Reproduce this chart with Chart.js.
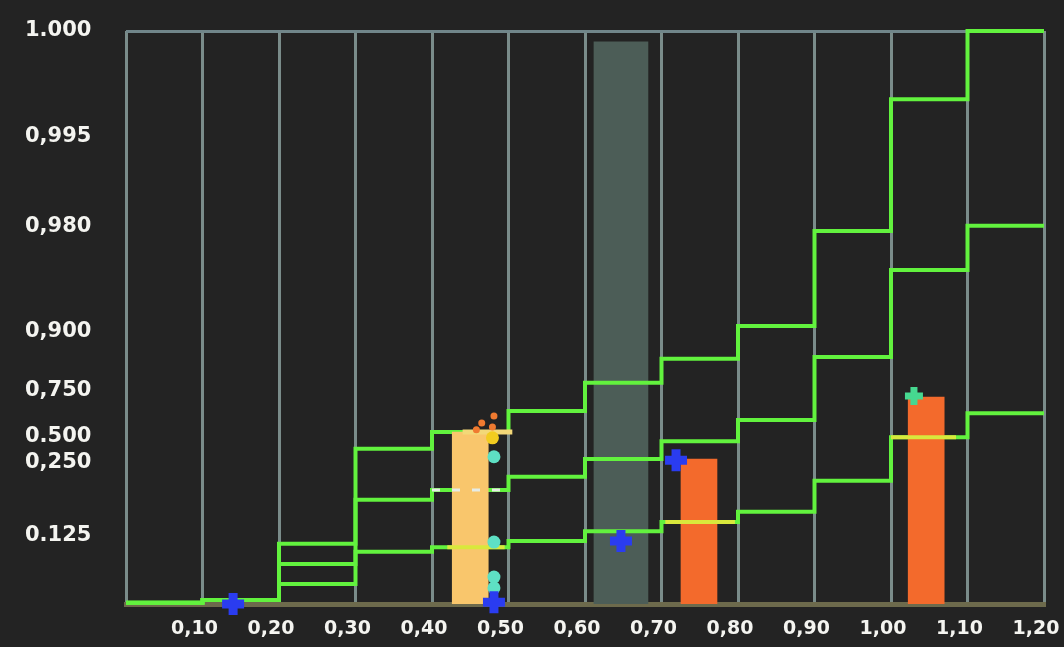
<!DOCTYPE html>
<html><head><meta charset="utf-8">
<script src="https://cdn.jsdelivr.net/npm/chart.js@4/dist/chart.umd.min.js"></script>
<style>html,body{margin:0;padding:0;background:#232323;}#wrap{width:1064px;height:647px;position:relative;}</style>
</head><body><div id="wrap"><canvas id="c"></canvas></div>
<script>
// ---- data (y in display units 0..100 of the plot height) ----
const xEdges = [0,0.1,0.2,0.3,0.4,0.5,0.6,0.7,0.8,0.9,1.0,1.1,1.2];
const xTickLabels = ['', '0,10','0,20','0,30','0,40','0,50','0,60','0,70','0,80','0,90','1,00','1,10','1,20'];
const stepLow  = [0.2,0.7,3.5,9.1,9.9,11.0,12.7,14.3,16.1,21.5,29.1,33.3];
const stepMid  = [0.2,0.7,7.0,18.2,19.9,22.2,25.3,28.4,32.1,43.1,58.3,66.0];
const stepHigh = [0.2,0.7,10.5,27.1,30.0,33.7,38.6,42.8,48.5,65.1,88.1,100];
const yTickPos = [12.0,24.6,29.3,37.3,47.6,65.8,81.5,100];
const yTickLabels = ['0.125','0,250','0.500','0,750','0,900','0,980','0,995','1.000'];

const grayBarX = [0.647];
const grayBarY = [98.1];
const warmBarX = [0.45, 0.749, 1.046];
const warmBarY = [30.0, 25.3, 36.1];
const warmBarColors = ['#f9c66c','#f36a2c','#f36a2c'];

const blueX = [0.14, 0.481, 0.647, 0.719];
const blueY = [0.0, 0.3, 11.0, 25.1];
const cyanX = [0.481, 0.481, 0.481, 0.481];
const cyanY = [25.7, 10.8, 4.7, 2.8];
const yellowDotX = [0.479];
const yellowDotY = [29.0];
const orangeDotX = [0.465, 0.481, 0.479, 0.458];
const orangeDotY = [31.6, 32.8, 30.9, 30.4];
const greenCrossX = [1.03];
const greenCrossY = [36.3];

// highlight segments over bars: [x0, x1, y]
const yellowSegX0 = [0.42, 0.705, 1.0];
const yellowSegX1 = [0.495, 0.796, 1.085];
const yellowSegY  = [9.9, 14.3, 29.1];
const whiteSegX = [0.40, 0.49];
const whiteSegY = [19.9, 19.9];
const capSegX = [0.44, 0.505];
const capSegY = [30.0, 30.0];

const pts = (xs, ys) => xs.map((x, i) => ({x, y: ys[i]}));
const stepPts = arr => xEdges.map((x, i) => ({x, y: arr[Math.min(i, arr.length - 1)]}));

const datasets = [];
datasets.push({type:'scatter', data: pts(blueX, blueY), pointStyle:'cross', radius:11, borderWidth:9,
  borderColor:'#2a3cf0', backgroundColor:'#2a3cf0', order:1, clip:false});
datasets.push({type:'scatter', data: pts(greenCrossX, greenCrossY), pointStyle:'cross', radius:9, borderWidth:7,
  borderColor:'#46d890', backgroundColor:'#46d890', order:1, clip:false});
datasets.push({type:'scatter', data: pts(cyanX, cyanY), pointStyle:'circle', radius:6.5, borderWidth:0,
  backgroundColor:'#5ee0c4', order:1, clip:false});
datasets.push({type:'scatter', data: pts(yellowDotX, yellowDotY), pointStyle:'circle', radius:6.5, borderWidth:0,
  backgroundColor:'#f2cc20', order:1});
datasets.push({type:'scatter', data: pts(orangeDotX, orangeDotY), pointStyle:'circle', radius:3.5, borderWidth:0,
  backgroundColor:'#f07a30', order:1});
yellowSegY.forEach((y, i) => datasets.push({type:'line', data: pts([yellowSegX0[i], yellowSegX1[i]], [y, y]),
  borderColor:'#d9e83c', borderWidth:4, pointRadius:0, order:2}));
datasets.push({type:'line', data: pts(whiteSegX, whiteSegY), borderColor:'#e6ece6', borderWidth:3,
  borderDash:[8,12], pointRadius:0, order:2});
datasets.push({type:'line', data: pts(capSegX, capSegY), borderColor:'#f3d878', borderWidth:5, pointRadius:0, order:2});
datasets.push({type:'bar', data: pts(warmBarX, warmBarY), backgroundColor: warmBarColors, barThickness:36,
  grouped:false, borderWidth:0, order:3});
[stepLow, stepMid, stepHigh].forEach(arr => datasets.push({type:'line', data: stepPts(arr), stepped:'before',
  borderColor:'#62f23e', borderWidth:4, pointRadius:0, fill:false, order:4, clip:false}));
datasets.push({type:'bar', data: pts(grayBarX, grayBarY), backgroundColor:'#4c5d57', barThickness:54,
  grouped:false, borderWidth:0, order:5});

new Chart(document.getElementById('c'), {
  type: 'scatter',
  data: { datasets },
  options: {
    responsive: true, maintainAspectRatio: false, animation: false,
    layout: { padding: { left: 25, top: 31, right: 20, bottom: 0 } },
    plugins: { legend: { display: false }, tooltip: { enabled: false } },
    scales: {
      x: {
        type: 'linear', min: 0, max: 1.2, offset: false,
        afterBuildTicks: s => { s.ticks = xEdges.map(v => ({value: v})); },
        afterFit: s => { s.height = 43; s.paddingRight = 0; s.paddingLeft = 0; },
        ticks: { callback: (v, i) => xTickLabels[i], color: '#f4f4f0', padding: 14, labelOffset: -8,
          maxRotation: 0, autoSkip: false, font: { family: 'DejaVu Sans', weight: 'bold', size: 19 } },
        grid: { color: '#7a8c8a', lineWidth: 3, drawTicks: false, offset: false },
        border: { color: '#6d6a4c', width: 5 }
      },
      y: {
        type: 'linear', min: 0, max: 100,
        afterBuildTicks: s => { s.ticks = yTickPos.map(v => ({value: v})); },
        afterFit: s => { s.width = 101; s.paddingTop = 0; s.paddingBottom = 0; },
        ticks: { callback: (v, i) => yTickLabels[i], color: '#f4f4f0', crossAlign: 'far', autoSkip: false,
          font: { family: 'DejaVu Sans', weight: 'bold', size: 21 } },
        grid: { color: ctx => (ctx.tick && ctx.tick.value === 100) ? '#71868a' : 'rgba(0,0,0,0)', lineWidth: 3, drawTicks: false, offset: false },
        border: { display: false }
      }
    }
  }
});
</script>
</body></html>
